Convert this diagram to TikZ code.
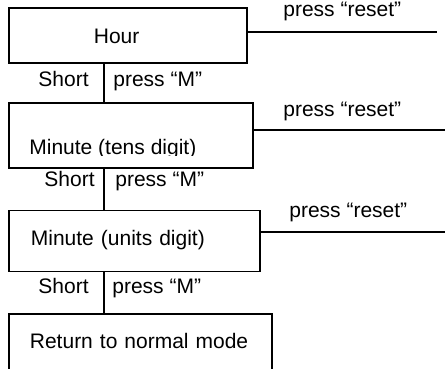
\documentclass[tikz,border=0pt]{standalone}
\usepackage{fontspec}
\setmainfont{Liberation Sans}
\usetikzlibrary{positioning}
\tikzstyle{box}=[draw,rectangle,line width=0.9pt,inner sep=0pt,align=left]
\tikzstyle{tag}=[inner sep=0pt]
\tikzstyle{wire}=[line width=0.6pt]
\tikzstyle{every node}=[font=\fontsize{10.5}{12.6}\selectfont]

\begin{document}
\begin{tikzpicture}[x=1pt,y=-1pt]
    \useasboundingbox (0,0) rectangle (222.5,184.5);
    \node[box, anchor=north west, minimum width=119pt, minimum height=27.25pt, text width=34pt, text height=8.25pt, text depth=0pt] (hour) at (4,3.75) {Hour};
    \node[box, below=19pt of hour.south west, anchor=north west, minimum width=122pt, minimum height=32.5pt] (tens) {};
    \node[box, below=20.5pt of tens.south west, anchor=north west, minimum width=125.5pt, minimum height=30.5pt, text width=103.5pt, text height=7.5pt, text depth=3pt] (units) {Minute (units digit)};
    \node[box, below=20.5pt of units.south west, anchor=north west, minimum width=131.5pt, minimum height=29pt, text width=110.5pt, text height=7.5pt, text depth=2.5pt] (normal) {Return to normal mode};
    % the tens caption is cut off at the bottom
    \begin{scope}
        \clip (0,0) rectangle (222.5,78);
        \node[tag, anchor=base west] (tenstext) at (14.5,77.5) {Minute (tens digit)};
    \end{scope}
    % reset lines
    \coordinate (end1) at (218.5,16);
    \coordinate (end2) at (222.5,65);
    \coordinate (end3) at (222.5,116);
    \draw[wire] (hour.east |- end1) -- (end1);
    \draw[wire] (tens.east |- end2) -- (end2);
    \draw[wire] (units.east |- end3) -- (end3);
    \node[tag, anchor=base west] (reset1) at (141.5,8.5) {press “reset”};
    \node[tag, anchor=base west] (reset2) at (141.5,58.5) {press “reset”};
    \node[tag, anchor=base west] (reset3) at (144.5,109) {press “reset”};
    % short presses
    \draw[wire] ([xshift=48pt]hour.south west) -- ([xshift=48pt]tens.north west);
    \draw[wire] ([xshift=48pt]tens.south west) -- ([xshift=48pt]units.north west);
    \draw[wire] ([xshift=48pt]units.south west) -- ([xshift=48pt]normal.north west);
    \node[tag, anchor=base east] (short1) at (44.5,43.5) {Short};
    \node[tag, anchor=base west] (pressm1) at (56.5,43.5) {press “M”};
    \node[tag, anchor=base east] (short2) at (47.5,93.5) {Short};
    \node[tag, anchor=base west] (pressm2) at (57.5,93.5) {press “M”};
    \node[tag, anchor=base east] (short3) at (44.5,146.5) {Short};
    \node[tag, anchor=base west] (pressm3) at (56,146.5) {press “M”};
\end{tikzpicture}
\end{document}
